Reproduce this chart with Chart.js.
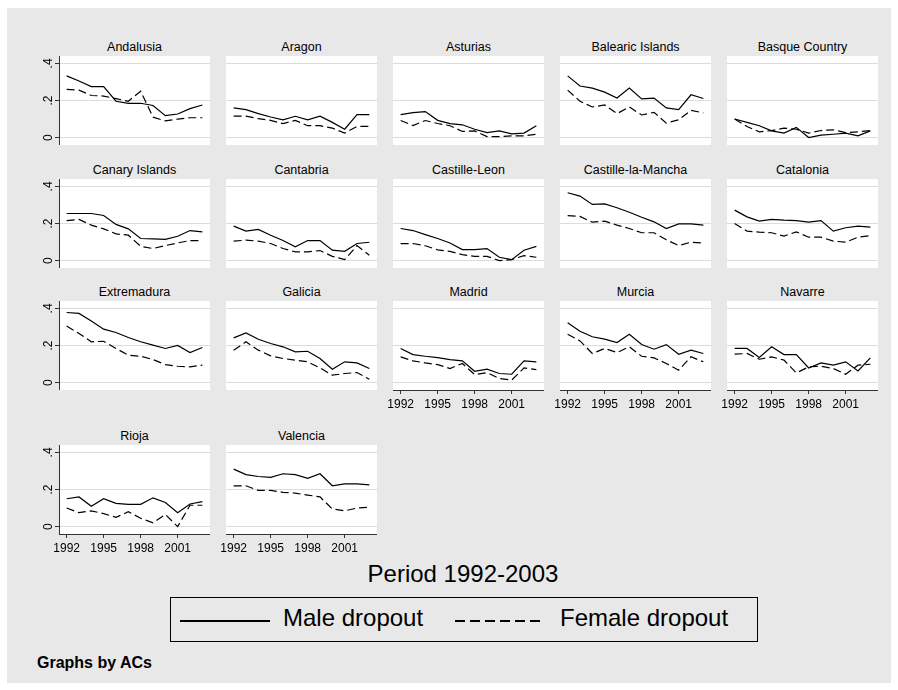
<!DOCTYPE html>
<html lang="en">
  <head>
    <meta charset="UTF-8" />
    <script src="https://cdn.jsdelivr.net/npm/chart.js@4.4.0/dist/chart.umd.min.js"></script>
    <title>Dropout by AC</title>
    <style>
      body { margin: 0; background: #fff; font-family: "Liberation Sans", Arial, Helvetica, sans-serif; }
      #frame { position: absolute; left: 7px; top: 8px; width: 884px; height: 675px; background: #e8e8e8; }
      canvas { position: absolute; }
      .ptitle { position: absolute; width: 151px; text-align: center; font-size: 12.5px; line-height: 14px; color: #000; white-space: nowrap; }
      .txt { position: absolute; color: #000; white-space: nowrap; }
      #legend { position: absolute; left: 170px; top: 597px; width: 586px; height: 43px; border: 1.5px solid #000; }
      .sample { position: absolute; height: 2px; width: 90px; top: 620px; }
    </style>
  </head>
  <body>
    <div id="frame"></div>
    <div id="panels"></div>
    <div class="txt" style="left:263px;width:400px;text-align:center;top:562px;font-size:24px;line-height:24px;">Period 1992-2003</div>
    <div id="legend"></div>
    <div class="sample" style="left:180px;background:#000;"></div>
    <div class="txt" style="left:283px;top:606px;font-size:24px;line-height:24px;">Male dropout</div>
    <div class="sample" style="left:455px;background:repeating-linear-gradient(to right,#000 0 10px,transparent 10px 15px);"></div>
    <div class="txt" style="left:560px;top:606px;font-size:24px;line-height:24px;">Female dropout</div>
    <div class="txt" style="left:37px;top:655px;font-size:16px;line-height:16px;font-weight:bold;">Graphs by ACs</div>

    <script>
      const years = [1992, 1993, 1994, 1995, 1996, 1997, 1998, 1999, 2000, 2001, 2002, 2003];
      const xTicks = [1992, 1995, 1998, 2001];
      const yTicks = [0, 0.2, 0.4];
      const yTickLabels = ["0", ".2", ".4"];

      const andalusiaMale = [0.333, 0.305, 0.275, 0.275, 0.196, 0.185, 0.185, 0.173, 0.118, 0.127, 0.156, 0.176];
      const andalusiaFemale = [0.26, 0.256, 0.227, 0.224, 0.21, 0.196, 0.25, 0.11, 0.09, 0.1, 0.107, 0.107];
      const aragonMale = [0.16, 0.151, 0.129, 0.111, 0.096, 0.115, 0.096, 0.115, 0.082, 0.045, 0.124, 0.124];
      const aragonFemale = [0.116, 0.116, 0.102, 0.093, 0.075, 0.093, 0.064, 0.064, 0.051, 0.024, 0.06, 0.06];
      const asturiasMale = [0.124, 0.135, 0.14, 0.093, 0.075, 0.069, 0.045, 0.027, 0.036, 0.02, 0.024, 0.064];
      const asturiasFemale = [0.092, 0.065, 0.092, 0.076, 0.064, 0.033, 0.036, 0.005, 0.005, 0.009, 0.009, 0.018];
      const balearicMale = [0.333, 0.278, 0.267, 0.245, 0.213, 0.267, 0.209, 0.213, 0.16, 0.151, 0.231, 0.211];
      const balearicFemale = [0.256, 0.196, 0.165, 0.176, 0.129, 0.165, 0.122, 0.136, 0.078, 0.096, 0.147, 0.133];
      const basqueMale = [0.1, 0.082, 0.064, 0.036, 0.024, 0.055, 0.0, 0.013, 0.018, 0.024, 0.009, 0.036];
      const basqueFemale = [0.1, 0.06, 0.031, 0.038, 0.051, 0.045, 0.024, 0.038, 0.042, 0.027, 0.031, 0.038];
      const canaryMale = [0.254, 0.254, 0.254, 0.243, 0.195, 0.171, 0.119, 0.117, 0.114, 0.131, 0.162, 0.155];
      const canaryFemale = [0.216, 0.222, 0.191, 0.171, 0.144, 0.137, 0.077, 0.065, 0.081, 0.095, 0.108, 0.108];
      const cantabriaMale = [0.186, 0.159, 0.168, 0.137, 0.108, 0.074, 0.108, 0.108, 0.056, 0.05, 0.092, 0.099];
      const cantabriaFemale = [0.105, 0.11, 0.105, 0.092, 0.065, 0.047, 0.047, 0.054, 0.023, 0.005, 0.081, 0.029];
      const leonMale = [0.173, 0.162, 0.14, 0.119, 0.095, 0.059, 0.059, 0.065, 0.018, 0.005, 0.056, 0.077];
      const leonFemale = [0.092, 0.092, 0.08, 0.058, 0.05, 0.032, 0.023, 0.023, 0.0, 0.005, 0.027, 0.018];
      const manchaMale = [0.366, 0.348, 0.303, 0.306, 0.285, 0.261, 0.234, 0.209, 0.173, 0.198, 0.198, 0.191];
      const manchaFemale = [0.243, 0.238, 0.207, 0.213, 0.191, 0.173, 0.15, 0.15, 0.112, 0.081, 0.099, 0.094];
      const cataloniaMale = [0.272, 0.236, 0.213, 0.222, 0.218, 0.216, 0.207, 0.216, 0.159, 0.177, 0.186, 0.18];
      const cataloniaFemale = [0.2, 0.159, 0.153, 0.15, 0.132, 0.155, 0.126, 0.126, 0.105, 0.099, 0.126, 0.135];
      const extremaduraMale = [0.378, 0.373, 0.332, 0.288, 0.27, 0.243, 0.22, 0.202, 0.184, 0.2, 0.162, 0.189];
      const extremaduraFemale = [0.305, 0.265, 0.22, 0.223, 0.184, 0.148, 0.142, 0.124, 0.097, 0.088, 0.085, 0.094];
      const galiciaMale = [0.241, 0.268, 0.234, 0.211, 0.193, 0.166, 0.169, 0.13, 0.072, 0.112, 0.106, 0.076];
      const galiciaFemale = [0.175, 0.22, 0.175, 0.144, 0.13, 0.121, 0.112, 0.079, 0.04, 0.049, 0.054, 0.018];
      const madridMale = [0.184, 0.151, 0.142, 0.135, 0.124, 0.117, 0.061, 0.072, 0.049, 0.045, 0.117, 0.112];
      const madridFemale = [0.139, 0.117, 0.106, 0.097, 0.076, 0.103, 0.043, 0.054, 0.022, 0.013, 0.079, 0.07];
      const murciaMale = [0.323, 0.277, 0.247, 0.234, 0.216, 0.261, 0.205, 0.18, 0.205, 0.153, 0.175, 0.157];
      const murciaFemale = [0.261, 0.225, 0.157, 0.184, 0.162, 0.193, 0.142, 0.133, 0.103, 0.067, 0.139, 0.112];
      const navarreMale = [0.184, 0.184, 0.135, 0.193, 0.151, 0.151, 0.079, 0.106, 0.094, 0.112, 0.063, 0.133];
      const navarreFemale = [0.153, 0.157, 0.126, 0.139, 0.121, 0.052, 0.085, 0.088, 0.076, 0.045, 0.094, 0.099];
      const riojaMale = [0.15, 0.16, 0.11, 0.15, 0.125, 0.12, 0.12, 0.155, 0.13, 0.075, 0.122, 0.135];
      const riojaFemale = [0.1, 0.075, 0.085, 0.07, 0.05, 0.08, 0.045, 0.02, 0.065, 0.0, 0.115, 0.115];
      const valenciaMale = [0.31, 0.28, 0.27, 0.265, 0.285, 0.28, 0.26, 0.285, 0.22, 0.23, 0.23, 0.225];
      const valenciaFemale = [0.22, 0.22, 0.195, 0.195, 0.185, 0.18, 0.17, 0.16, 0.095, 0.085, 0.1, 0.105];

      const panels = [
        ["Andalusia", andalusiaMale, andalusiaFemale],
        ["Aragon", aragonMale, aragonFemale],
        ["Asturias", asturiasMale, asturiasFemale],
        ["Balearic Islands", balearicMale, balearicFemale],
        ["Basque Country", basqueMale, basqueFemale],
        ["Canary Islands", canaryMale, canaryFemale],
        ["Cantabria", cantabriaMale, cantabriaFemale],
        ["Castille-Leon", leonMale, leonFemale],
        ["Castille-la-Mancha", manchaMale, manchaFemale],
        ["Catalonia", cataloniaMale, cataloniaFemale],
        ["Extremadura", extremaduraMale, extremaduraFemale],
        ["Galicia", galiciaMale, galiciaFemale],
        ["Madrid", madridMale, madridFemale],
        ["Murcia", murciaMale, murciaFemale],
        ["Navarre", navarreMale, navarreFemale],
        ["Rioja", riojaMale, riojaFemale],
        ["Valencia", valenciaMale, valenciaFemale]
      ];

      // layout of the grid
      const colLeft = [59, 226, 393, 560, 727];
      const rowTop = [56, 179, 301, 445];
      const plotW = 151, plotH = 89;
      const axisW = 24, axisH = 22;
      const font = { family: '"Liberation Sans", Arial, Helvetica, sans-serif', size: 12 };

      const whitePlot = {
        id: "whitePlot",
        beforeDraw(chart) {
          const a = chart.chartArea, ctx = chart.ctx;
          ctx.save();
          ctx.fillStyle = "#fff";
          ctx.fillRect(a.left, a.top, a.right - a.left, a.bottom - a.top);
          ctx.restore();
        }
      };

      // fixed axis boxes, no label overflow padding
      function fixBox(s, w, h) {
        if (w !== null) s.width = w;
        if (h !== null) s.height = h;
        s.paddingTop = s.paddingBottom = s.paddingLeft = s.paddingRight = 0;
      }

      const holder = document.getElementById("panels");
      panels.forEach(([name, male, female], i) => {
        const row = Math.floor(i / 5), col = i % 5;
        const hasY = col === 0;
        const hasX = i >= 12;
        // room on the left for the y labels, or for the first year label
        const padL = hasY ? axisW : (hasX ? 14 : 0);
        const padB = hasX ? axisH : 0;

        const t = document.createElement("div");
        t.className = "ptitle";
        t.style.left = colLeft[col] + "px";
        t.style.top = (rowTop[row] - 16) + "px";
        t.textContent = name;
        holder.appendChild(t);

        const cv = document.createElement("canvas");
        cv.width = plotW + padL;
        cv.height = plotH + padB;
        cv.style.left = (colLeft[col] - padL) + "px";
        cv.style.top = rowTop[row] + "px";
        cv.style.width = (plotW + padL) + "px";
        cv.style.height = (plotH + padB) + "px";
        holder.appendChild(cv);

        new Chart(cv.getContext("2d"), {
          type: "line",
          data: {
            datasets: [
              { label: "Male dropout", data: years.map((y, k) => ({ x: y, y: male[k] })),
                borderColor: "#000", borderWidth: 1.2, pointRadius: 0, fill: false, tension: 0 },
              { label: "Female dropout", data: years.map((y, k) => ({ x: y, y: female[k] })),
                borderColor: "#000", borderWidth: 1.2, borderDash: [8, 4], pointRadius: 0, fill: false, tension: 0 }
            ]
          },
          options: {
            responsive: false,
            maintainAspectRatio: false,
            animation: false,
            devicePixelRatio: 1,
            layout: { padding: 0, autoPadding: false },
            plugins: { legend: { display: false }, title: { display: false }, tooltip: { enabled: false } },
            scales: {
              x: {
                type: "linear",
                display: hasX,
                min: 1991.38,
                max: 2003.62,
                afterBuildTicks: s => { s.ticks = xTicks.map(v => ({ value: v })); },
                afterFit: s => fixBox(s, null, padB),
                grid: { drawOnChartArea: false, tickLength: 4, tickColor: "#333", tickWidth: 1 },
                border: { display: true, color: "#333", width: 1 },
                ticks: { color: "#000", font: font, padding: 3, maxRotation: 0, autoSkip: false,
                         callback: v => String(v) }
              },
              y: {
                type: "linear",
                min: -0.04,
                max: 0.44,
                afterBuildTicks: s => { s.ticks = yTicks.map(v => ({ value: v })); },
                afterFit: s => fixBox(s, padL, null),
                grid: { color: "#dcdcdc", lineWidth: 1, drawTicks: hasY, tickLength: 4, tickColor: "#333" },
                border: { display: hasY, color: "#333", width: 1 },
                ticks: { display: hasY, color: "#000", font: font, padding: 1, minRotation: 90, maxRotation: 90,
                         crossAlign: "center",
                         callback: v => yTickLabels[yTicks.indexOf(v)] }
              }
            }
          },
          plugins: [whitePlot]
        });
      });
    </script>
  </body>
</html>
